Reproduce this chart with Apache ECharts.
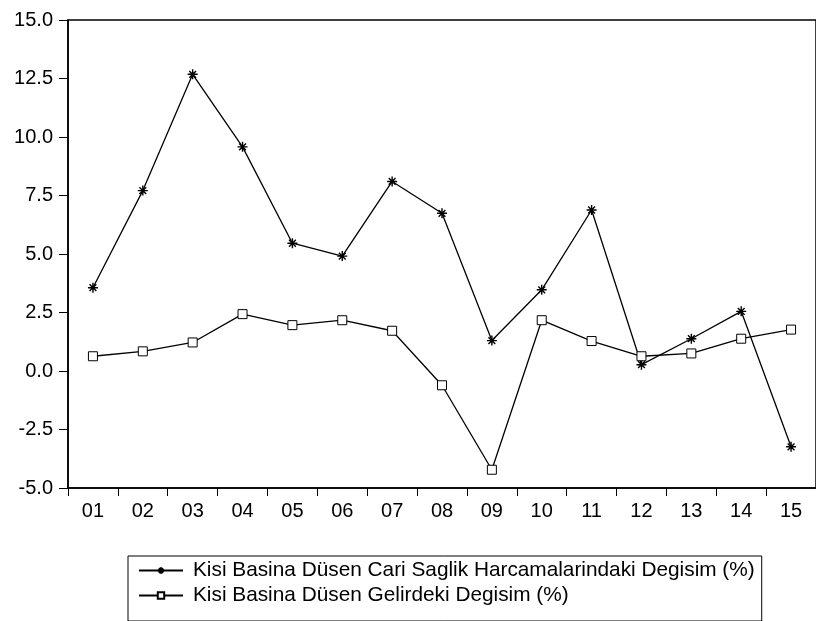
<!DOCTYPE html>
<html>
<head>
<meta charset="utf-8">
<script src="https://cdn.jsdelivr.net/npm/echarts@6/dist/echarts.min.js"></script>
<style>html,body{margin:0;padding:0;background:#fff;}#c{width:816px;height:621px;}</style>
</head>
<body>
<div id="c"></div>
<script>
const categories = ['01','02','03','04','05','06','07','08','09','10','11','12','13','14','15'];
const saglikName = 'Kisi Basina Düsen Cari Saglik Harcamalarindaki Degisim (%)';
const gelirName = 'Kisi Basina Düsen Gelirdeki Degisim (%)';
const saglik = [3.56, 7.71, 12.68, 9.58, 5.46, 4.91, 8.10, 6.74, 1.30, 3.47, 6.88, 0.27, 1.38, 2.55, -3.24];
const gelir = [0.63, 0.84, 1.22, 2.43, 1.96, 2.17, 1.72, -0.61, -4.22, 2.17, 1.28, 0.63, 0.75, 1.38, 1.77];
const yMin = -5, yMax = 15, yStep = 2.5;

const FONT = '"Liberation Sans", Arial, sans-serif';
const star = 'path://M5,0L5,10M0,5L10,5M1.6,1.6L8.4,8.4M1.6,8.4L8.4,1.6';

const chart = echarts.init(document.getElementById('c'), null, {renderer: 'canvas'});
chart.setOption({
  backgroundColor: '#fff',
  animation: false,
  grid: {left: 68, top: 20, right: -7, bottom: 133, show: true, borderColor: '#000', borderWidth: 1.5, backgroundColor: '#fff'},
  legend: {
    orient: 'vertical', left: 128, top: 556,
    borderColor: '#000', borderWidth: 1, padding: [4, 7, 15, 10],
    itemWidth: 44, itemHeight: 8, itemGap: 4,
    textStyle: {fontFamily: FONT, fontSize: 20.8, color: '#000', padding: [0, 0, 0, 5]},
    data: [saglikName, gelirName]
  },
  xAxis: {
    type: 'category', data: categories, boundaryGap: true,
    axisLine: {onZero: false, lineStyle: {color: '#000', width: 1.5}},
    axisTick: {show: true, length: 8, lineStyle: {color: '#000', width: 1}},
    axisLabel: {fontFamily: FONT, fontSize: 20, color: '#000', margin: 13},
    splitLine: {show: false}
  },
  yAxis: {
    type: 'value', min: yMin, max: yMax, interval: yStep,
    axisLine: {show: true, lineStyle: {color: '#000', width: 1.5}},
    axisTick: {show: true, length: 9, lineStyle: {color: '#000', width: 1}},
    axisLabel: {fontFamily: FONT, fontSize: 20, color: '#000', margin: 15, formatter: v => v.toFixed(1)},
    splitLine: {show: false}
  },
  series: [
    {
      name: saglikName, type: 'line', data: saglik,
      symbol: star, symbolSize: 10,
      lineStyle: {color: '#000', width: 1.3},
      itemStyle: {color: '#000', borderColor: '#000', borderWidth: 1.4}
    },
    {
      name: gelirName, type: 'line', data: gelir,
      symbol: 'rect', symbolSize: 9,
      lineStyle: {color: '#000', width: 1.3},
      itemStyle: {color: '#fff', borderColor: '#000', borderWidth: 1}
    }
  ]
});
</script>
</body>
</html>
